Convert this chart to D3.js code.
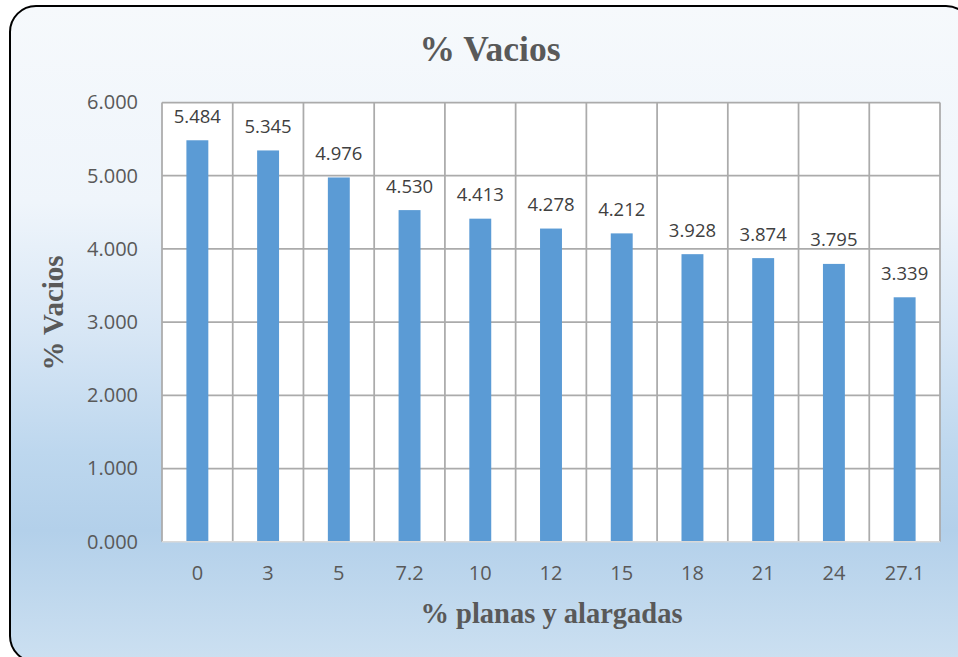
<!DOCTYPE html>
<html>
<head>
<meta charset="utf-8">
<script src="https://cdn.jsdelivr.net/npm/d3@7"></script>
<style>
  html, body { margin: 0; padding: 0; background: #ffffff; }
  svg { display: block; }
</style>
</head>
<body>
<svg id="chart" width="958" height="657"></svg>
<script>
// Porcentaje de partículas planas y alargadas vs. % de vacíos
const categories = ["0", "3", "5", "7.2", "10", "12", "15", "18", "21", "24", "27.1"];
const vacios = [5.484, 5.345, 4.976, 4.530, 4.413, 4.278, 4.212, 3.928, 3.874, 3.795, 3.339];
const yTicks = [0, 1, 2, 3, 4, 5, 6];

const svg = d3.select("#chart");

// Background panel gradient
const defs = svg.append("defs");
const grad = defs.append("linearGradient")
  .attr("id", "panelGrad").attr("x1", 0).attr("y1", 0).attr("x2", 0).attr("y2", 1);
[[0, "#F6F9FC"], [0.3, "#EFF5FB"], [0.5, "#D7E6F5"], [0.68, "#BDD7EE"], [0.8, "#B3D0EA"], [1, "#CCE0F1"]]
  .forEach(([o, c]) => grad.append("stop").attr("offset", o).attr("stop-color", c));

svg.append("rect")
  .attr("x", 10).attr("y", 6)
  .attr("width", 962).attr("height", 656)
  .attr("rx", 26).attr("ry", 26)
  .attr("fill", "url(#panelGrad)")
  .attr("stroke", "#000").attr("stroke-width", 2);

// Plot area
const plot = { left: 162, right: 940, top: 102.5, bottom: 541.7 };

const x = d3.scaleBand()
  .domain(categories)
  .range([plot.left, plot.right])
  .paddingInner(0).paddingOuter(0);

const y = d3.scaleLinear()
  .domain([0, 6])
  .range([plot.bottom, plot.top]);

svg.append("rect")
  .attr("x", plot.left).attr("y", plot.top)
  .attr("width", plot.right - plot.left).attr("height", plot.bottom - plot.top)
  .attr("fill", "#ffffff");

const gridColor = "#ABABAB";

// Horizontal gridlines
svg.append("g")
  .selectAll("line")
  .data(yTicks.filter(d => d > 0))
  .join("line")
  .attr("x1", plot.left).attr("x2", plot.right)
  .attr("y1", d => y(d)).attr("y2", d => y(d))
  .attr("stroke", gridColor).attr("stroke-width", 1.75);

// Vertical gridlines at category boundaries
const bounds = categories.map(c => x(c)).concat([x(categories[categories.length - 1]) + x.bandwidth()]);
svg.append("g")
  .selectAll("line")
  .data(bounds)
  .join("line")
  .attr("x1", d => d).attr("x2", d => d)
  .attr("y1", plot.top).attr("y2", plot.bottom)
  .attr("stroke", gridColor).attr("stroke-width", 1.75);

// Bars
const barFrac = 0.31;
const barW = x.bandwidth() * barFrac;
svg.append("g")
  .selectAll("rect")
  .data(vacios)
  .join("rect")
  .attr("x", (d, i) => x(categories[i]) + (x.bandwidth() - barW) / 2)
  .attr("y", d => y(d))
  .attr("width", barW)
  .attr("height", d => y(0) - y(d))
  .attr("fill", "#5B9BD5");

// Category axis line
svg.append("line")
  .attr("x1", plot.left).attr("x2", plot.right)
  .attr("y1", plot.bottom).attr("y2", plot.bottom)
  .attr("stroke", "#D9D9D9").attr("stroke-width", 1.5);

// Data labels
const fmt = d3.format(".3f");
svg.append("g")
  .selectAll("text")
  .data(vacios)
  .join("text")
  .attr("x", (d, i) => x(categories[i]) + x.bandwidth() / 2)
  .attr("y", d => y(d) - 17.5)
  .attr("text-anchor", "middle")
  .attr("font-family", "'Open Sans', sans-serif")
  .attr("font-size", 18.5)
  .attr("fill", "#404040")
  .text(d => fmt(d));

// Y axis tick labels
const yAxis = d3.axisLeft(y).tickValues(yTicks).tickFormat(d3.format(".3f")).tickSize(0).tickPadding(24);
const gy = svg.append("g").attr("transform", `translate(${plot.left},0)`).call(yAxis);
gy.select(".domain").remove();
gy.selectAll("text")
  .attr("font-family", "'Open Sans', sans-serif")
  .attr("font-size", 20)
  .attr("fill", "#595959");

// X axis tick labels
const xAxis = d3.axisBottom(x).tickSize(0).tickPadding(24);
const gx = svg.append("g").attr("transform", `translate(0,${plot.bottom})`).call(xAxis);
gx.select(".domain").remove();
gx.selectAll("text")
  .attr("font-family", "'Open Sans', sans-serif")
  .attr("font-size", 20)
  .attr("fill", "#595959");

// Titles
const serif = "'Liberation Serif', 'Times New Roman', serif";
svg.append("text")
  .attr("x", 490).attr("y", 60.5)
  .attr("text-anchor", "middle")
  .attr("font-family", serif).attr("font-weight", "bold")
  .attr("font-size", 35.5).attr("fill", "#595959")
  .text("% Vacios");

svg.append("text")
  .attr("transform", "translate(63,313) rotate(-90)")
  .attr("text-anchor", "middle")
  .attr("font-family", serif).attr("font-weight", "bold")
  .attr("font-size", 29).attr("fill", "#595959")
  .text("% Vacios");

svg.append("text")
  .attr("x", 551.5).attr("y", 623)
  .attr("text-anchor", "middle")
  .attr("font-family", serif).attr("font-weight", "bold")
  .attr("font-size", 28.5).attr("fill", "#595959")
  .text("% planas y alargadas");
</script>
</body>
</html>
